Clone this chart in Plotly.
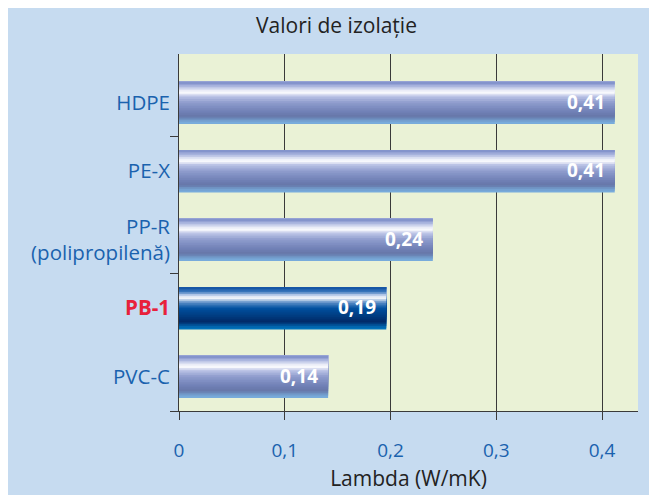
import plotly.graph_objects as go

# data (top to bottom as in the picture)
materials = ["HDPE", "PE-X", "PP-R<br>(polipropilenă)", "PB-1", "PVC-C"]
lambda_values = [0.412, 0.412, 0.240, 0.196, 0.141]
value_labels = ["0,41", "0,41", "0,24", "0,19", "0,14"]
highlight = [False, False, False, True, False]

x_ticks = [0, 0.1, 0.2, 0.3, 0.4]

# plotly draws the first category at the bottom
materials = materials[::-1]
lambda_values = lambda_values[::-1]
value_labels = value_labels[::-1]
highlight = highlight[::-1]
positions = list(range(len(materials)))

BLUE_TXT = "#1a62ae"
RED_TXT = "#e8213b"

# metallic gradient stops, t = 0 at the bottom of the bar
GRAY_STOPS = [(0.00, "#7ab0e0"), (0.07, "#74a0d0"), (0.17, "#6676a8"),
              (0.30, "#7282b8"), (0.50, "#8e9ccc"), (0.64, "#b8c0e4"),
              (0.74, "#ffffff"), (0.80, "#e0e4f4"), (0.90, "#a4b0dc"),
              (1.00, "#7c8cc8")]
DARK_STOPS = [(0.00, "#0078c0"), (0.08, "#0060a8"), (0.18, "#002a68"),
              (0.32, "#003c80"), (0.50, "#0050a0"), (0.64, "#6090c8"),
              (0.74, "#ffffff"), (0.80, "#c0d0ec"), (0.90, "#3070b8"),
              (1.00, "#1050a0")]


def _hex(c):
    return tuple(int(c[i:i + 2], 16) for i in (1, 3, 5))


def grad_color(stops, t):
    for (t0, c0), (t1, c1) in zip(stops[:-1], stops[1:]):
        if t0 <= t <= t1:
            f = (t - t0) / (t1 - t0) if t1 > t0 else 0
            a, b = _hex(c0), _hex(c1)
            rgb = [round(a[k] + (b[k] - a[k]) * f) for k in range(3)]
            return "rgb(%d,%d,%d)" % tuple(rgb)
    return stops[-1][1]


fig = go.Figure()

# each slice runs from its offset to the top of the bar, so no seams
bar_w = 0.62
n_slices = 24
for i in range(n_slices):
    t = (i + 0.5) / n_slices
    off = -bar_w / 2 + i * bar_w / n_slices
    colors = [grad_color(DARK_STOPS if h else GRAY_STOPS, t) for h in highlight]
    fig.add_trace(go.Bar(
        x=lambda_values, y=positions, orientation="h",
        width=bar_w / 2 - off, offset=off,
        marker=dict(color=colors, line=dict(width=0)),
        hoverinfo="skip", showlegend=False,
    ))

# invisible trace that carries the category axis on y2
fig.add_trace(go.Scatter(
    x=lambda_values, y=positions, yaxis="y2", mode="markers",
    marker=dict(opacity=0), hoverinfo="skip", showlegend=False,
))
for v, p, lab in zip(lambda_values, positions, value_labels):
    fig.add_annotation(
        x=v, y=p, yref="y2", text="<b>%s</b>" % lab, showarrow=False,
        xanchor="right", xshift=-8, yshift=1,
        font=dict(family="Open Sans", size=19, color="white"),
    )

tick_text = []
for m, h in zip(materials, highlight):
    if h:
        tick_text.append("<span style='color:%s'><b>%s</b></span>" % (RED_TXT, m))
    else:
        tick_text.append(m)

y_range = [-0.5, 4.71]

fig.update_layout(
    width=657, height=495,
    margin=dict(l=171, r=27, t=46, b=92),
    paper_bgcolor="#c6dbf0",
    plot_bgcolor="#eaf2d6",
    barmode="overlay",
    separators=",.",
    font=dict(family="Open Sans", color="#222222"),
    title=dict(text="Valori de izolație", x=0.5, xanchor="center",
               y=0.964, yanchor="middle",
               font=dict(family="Open Sans", size=21, color="#222222")),
    xaxis=dict(
        range=[0, 0.434], tickvals=x_ticks, tickformat="~g",
        showgrid=True, gridcolor="#3a3a3a", gridwidth=1, zeroline=False,
        showline=True, linecolor="#3a3a3a", linewidth=1,
        ticks="outside", ticklen=8, tickcolor="#3a3a3a",
        tickfont=dict(size=19, color=BLUE_TXT), ticklabelstandoff=14,
        title=dict(text="Lambda (W/mK)", font=dict(size=21, color="#222222"),
                   standoff=9),
        automargin=False, fixedrange=True,
    ),
    yaxis=dict(
        range=y_range, tickvals=[-0.5, 1.5, 3.5], showticklabels=False,
        showgrid=False, zeroline=False,
        showline=True, linecolor="#3a3a3a", linewidth=1,
        ticks="outside", ticklen=8, tickcolor="#3a3a3a",
        automargin=False, fixedrange=True,
    ),
    yaxis2=dict(
        range=y_range, overlaying="y", side="left", anchor="x",
        tickvals=positions, ticktext=tick_text, ticks="",
        showgrid=False, zeroline=False, showline=False,
        tickfont=dict(size=20.5, color=BLUE_TXT), ticklabelstandoff=8,
        automargin=False, fixedrange=True,
    ),
)

fig.write_html("out.html")
